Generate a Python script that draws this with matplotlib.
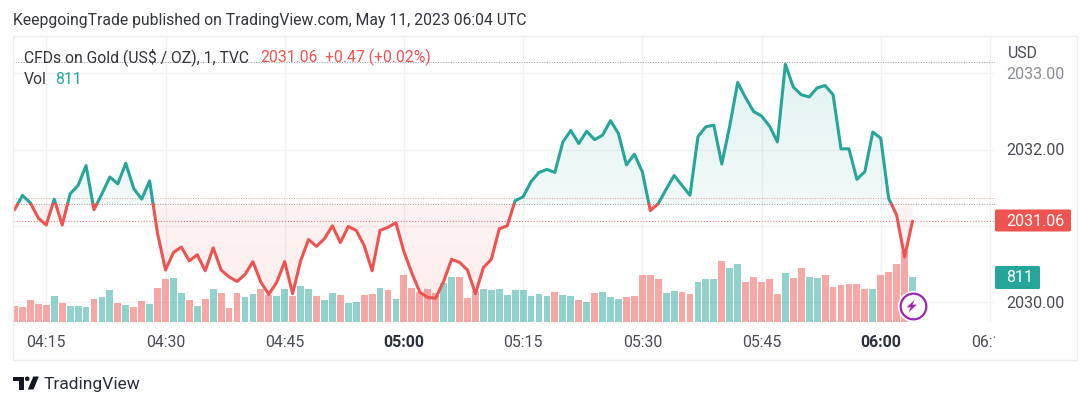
import numpy as np
import matplotlib
matplotlib.use("Agg")
import matplotlib.pyplot as plt
from matplotlib.patches import Rectangle, Polygon, Circle, FancyBboxPatch

plt.rcParams['font.family'] = ['Roboto', 'DejaVu Sans']

UP = "#26a69a"
DOWN = "#ef5350"
TEXT = "#4a4c55"
W, H = 1090, 407

# one close per minute, starting at 04:11
closes = [
    2031.21, 2031.40, 2031.30, 2031.10, 2031.01, 2031.35, 2031.01, 2031.42, 2031.53, 2031.79,
    2031.21, 2031.42, 2031.64, 2031.55, 2031.82, 2031.49, 2031.35, 2031.59, 2030.90, 2030.42,
    2030.65, 2030.72, 2030.54, 2030.62, 2030.41, 2030.71, 2030.42, 2030.33, 2030.27, 2030.36,
    2030.53, 2030.26, 2030.10, 2030.26, 2030.53, 2030.11, 2030.54, 2030.82, 2030.73, 2030.83,
    2031.00, 2030.78, 2030.99, 2030.94, 2030.74, 2030.41, 2030.94, 2030.98, 2031.04, 2030.66,
    2030.38, 2030.13, 2030.06, 2030.05, 2030.27, 2030.56, 2030.52, 2030.42, 2030.11, 2030.45,
    2030.56, 2030.96, 2031.00, 2031.33, 2031.38, 2031.58, 2031.70, 2031.74, 2031.70, 2032.10,
    2032.25, 2032.08, 2032.24, 2032.13, 2032.19, 2032.38, 2032.21, 2031.80, 2031.94, 2031.71,
    2031.20, 2031.29, 2031.48, 2031.66, 2031.53, 2031.40, 2032.17, 2032.30, 2032.32, 2031.81,
    2032.31, 2032.88, 2032.68, 2032.50, 2032.44, 2032.31, 2032.10, 2033.12, 2032.82, 2032.72,
    2032.69, 2032.81, 2032.84, 2032.72, 2032.01, 2032.01, 2031.61, 2031.71, 2032.23, 2032.15,
    2031.36, 2031.14, 2030.59, 2031.06,
]
volumes = [
    294, 276, 390, 324, 306, 462, 348, 288, 288, 276,
    408, 450, 570, 336, 306, 264, 378, 324, 612, 768,
    792, 528, 390, 294, 414, 588, 516, 252, 528, 450,
    504, 600, 486, 462, 588, 474, 642, 588, 462, 402,
    528, 486, 348, 354, 486, 504, 612, 570, 414, 840,
    612, 546, 600, 516, 708, 810, 810, 432, 558, 588,
    576, 588, 486, 570, 570, 474, 504, 462, 534, 486,
    474, 390, 360, 516, 546, 450, 414, 444, 462, 840,
    840, 780, 528, 558, 534, 504, 726, 768, 768, 1104,
    978, 1050, 714, 810, 726, 768, 504, 882, 786, 966,
    810, 792, 852, 630, 666, 684, 684, 588, 588, 840,
    894, 1038, 1272, 811,
]
vol_dirs = [
    "r", "r", "r", "r", "r", "g", "r", "g", "g", "g",
    "r", "g", "g", "r", "g", "r", "r", "g", "r", "r",
    "g", "g", "r", "g", "r", "g", "r", "r", "r", "g",
    "g", "r", "r", "g", "g", "r", "g", "g", "r", "g",
    "g", "r", "g", "g", "r", "r", "g", "r", "g", "r",
    "r", "r", "r", "r", "g", "g", "r", "r", "r", "g",
    "g", "g", "g", "g", "g", "g", "g", "g", "r", "g",
    "g", "r", "g", "r", "g", "g", "g", "r", "r", "r",
    "r", "r", "g", "g", "r", "r", "g", "g", "g", "r",
    "g", "g", "r", "r", "r", "r", "r", "g", "r", "r",
    "g", "g", "r", "r", "r", "r", "r", "r", "g", "r",
    "r", "r", "r", "g",
]
time_ticks = [4, 19, 34, 49, 64, 79, 94, 109, 122.8]
time_labels = ["04:15", "04:30", "04:45", "05:00", "05:15", "05:30", "05:45", "06:00", "06:15"]
bold_labels = ["05:00", "06:00"]
grid_prices = [2030, 2031, 2032, 2033]
label_prices = [2030, 2032, 2033]
price_labels = ["2030.00", "2032.00", "2033.00"]

baseline = 2031.284
high_line = 2033.15
prev_line = 2031.37
last_price = 2031.06


def px_axes(fig, left, top, right, bottom):
    return fig.add_axes([left / W, 1 - bottom / H, (right - left) / W, (bottom - top) / H])


fig = plt.figure(figsize=(W / 100, H / 100), dpi=100, facecolor="white")
ax = px_axes(fig, 13, 36, 995, 322)
ax_time = px_axes(fig, 13, 322, 995, 360)

x = np.arange(len(closes), dtype=float)
y = np.array(closes)
xlim = (-0.19, 123.38)
ylim = (2029.738, 2033.49)

# volume has its own scale on the same pane
ax_vol = ax.twinx()
ax_vol.set_ylim(0, 5148)
ax_vol.bar(x, volumes, width=0.86, color=[UP if d == "g" else DOWN for d in vol_dirs],
           alpha=0.5, linewidth=0, zorder=2)
ax_vol.axis("off")
ax.set_zorder(ax_vol.get_zorder() + 1)
ax.patch.set_visible(False)
ax_vol.patch.set_visible(False)

for a in (ax, ax_vol, ax_time):
    a.set_xlim(*xlim)
ax.set_ylim(*ylim)

# grid sits below the bars, so draw it on the figure background axes
ax_bg = px_axes(fig, 13, 36, 995, 322)
ax_bg.set_zorder(-1)
ax_bg.set_xlim(*xlim)
ax_bg.set_ylim(*ylim)
ax_bg.set_xticks([])
ax_bg.set_yticks([])
for s in ax_bg.spines.values():
    s.set_visible(False)
for t in time_ticks:
    ax_bg.axvline(t, color="#f1f2f4", lw=1)
for p in grid_prices:
    ax_bg.axhline(p, color="#f1f2f4", lw=1)

# add points where the line crosses the baseline
xs, ys = [x[0]], [y[0]]
for i in range(1, len(y)):
    if (y[i - 1] - baseline) * (y[i] - baseline) < 0:
        t = (baseline - y[i - 1]) / (y[i] - y[i - 1])
        xs.append(x[i - 1] + t)
        ys.append(baseline)
    xs.append(x[i])
    ys.append(y[i])
xs = np.array(xs)
ys = np.array(ys)


def gradient_fill(color, a_top, a_bottom, y0, y1, upper):
    rgb = matplotlib.colors.to_rgb(color)
    img = np.zeros((64, 2, 4))
    img[..., :3] = rgb
    img[..., 3] = np.linspace(a_top, a_bottom, 64)[:, None]
    im = ax.imshow(img, extent=[xlim[0], xlim[1], y0, y1], aspect="auto", origin="upper",
                   zorder=3, interpolation="bilinear")
    y2 = np.maximum(ys, baseline) if upper else np.minimum(ys, baseline)
    poly = ax.fill_between(xs, baseline, y2, facecolor="none", edgecolor="none")
    im.set_clip_path(poly.get_paths()[0], transform=ax.transData)


gradient_fill(UP, 0.14, 0.06, baseline, 2033.2, True)
gradient_fill(DOWN, 0.07, 0.10, 2030.0, baseline, False)
ax.set_xlim(*xlim)
ax.set_ylim(*ylim)

ax.plot(xs, np.ma.masked_where(ys < baseline, ys), color=UP, lw=2.2, zorder=5,
        solid_joinstyle="round", solid_capstyle="round")
ax.plot(xs, np.ma.masked_where(ys > baseline, ys), color=DOWN, lw=2.2, zorder=5,
        solid_joinstyle="round", solid_capstyle="round")

dots = (0, (1, 1.6))
ax.axhline(high_line, color="#9598a1", lw=0.7, ls=dots, zorder=4)
ax.axhline(baseline, color="#9598a1", lw=0.7, ls=dots, zorder=4)
ax.axhline(prev_line, color=DOWN, lw=0.7, ls=dots, alpha=0.6, zorder=4)
ax.axhline(last_price, color="#ee7a80", lw=0.8, ls=dots, zorder=4)

# news marker on the last bar
ax.plot(x[-1], 2029.95, "o", ms=21, mfc="white", mec="white", mew=1.5, zorder=6)
ax.plot(x[-1], 2029.95, "o", ms=18.5, mfc="white", mec="#9c27b0", mew=1.6, zorder=7)

for a in (ax, ax_time):
    a.set_xticks([])
    a.set_yticks([])
    for s in a.spines.values():
        s.set_visible(False)

ax_time.set_ylim(0, 1)
for t, lab in zip(time_ticks, time_labels):
    ax_time.text(t, 0.46, lab, ha="center", va="center", fontsize=11.4,
                 color=TEXT if lab not in bold_labels else "#2a2e39",
                 fontweight="bold" if lab in bold_labels else "normal", clip_on=True)

# frame, labels and everything else outside the panes, in pixels
top = fig.add_axes([0, 0, 1, 1], zorder=20)
top.set_xlim(0, W)
top.set_ylim(H, 0)
top.axis("off")
top.patch.set_visible(False)

# bolt inside the news marker
top.add_patch(Polygon([(914.8, 299.8), (906.6, 307.3), (910.8, 307.3), (908.4, 312.6), (916.8, 304.6), (912.4, 304.6)],
                      fc="#9c27b0", ec="none"))

top.add_patch(Rectangle((13, 36), 1064, 324, fill=False, ec="#ebedf3", lw=1))
top.text(13, 20.5, "KeepgoingTrade published on TradingView.com, May 11, 2023 06:04 UTC",
         fontsize=11.35, color="#33353c", va="center")
top.text(24, 57, "CFDs on Gold (US$ / OZ), 1, TVC", fontsize=11.35, color="#33353c", va="center")
top.text(260, 57, "2031.06", fontsize=11.35, color=DOWN, va="center")
top.text(325, 57, "+0.47 (+0.02%)", fontsize=11.35, color=DOWN, va="center")
top.text(24, 79, "Vol", fontsize=11.35, color="#33353c", va="center")
top.text(55, 79, "811", fontsize=11.35, color=UP, va="center")

for p, lab in zip(label_prices, price_labels):
    py = 302 - (p - 2030) * 76.23
    top.text(1006, py + 1, lab, fontsize=11.5, color="#8b8d95" if p == 2033 else TEXT, va="center")
top.text(1023, 54, "USD", fontsize=11.4, color=TEXT, va="center", ha="center")

top.add_patch(FancyBboxPatch((995, 209.5), 76, 22, boxstyle="round,pad=0,rounding_size=1.5", fc=DOWN, ec="none"))
top.text(1006, 221.2, "2031.06", fontsize=11.5, color="white", va="center")
top.add_patch(FancyBboxPatch((995, 266), 45, 23, boxstyle="round,pad=0,rounding_size=1.5", fc=UP, ec="none"))
top.text(1006, 278, "811", fontsize=11.5, color="white", va="center")

# logo
top.add_patch(Polygon([(13.3, 376.5), (23.5, 376.5), (23.5, 389.5), (18.5, 389.5), (18.5, 381), (13.3, 381)],
                      fc="#131722", ec="none"))
top.add_patch(Circle((27.2, 378.8), 2.3, fc="#131722", ec="none"))
top.add_patch(Polygon([(33.3, 376.5), (38.8, 376.5), (33.5, 389.5), (27.8, 389.5)], fc="#131722", ec="none"))
top.text(44, 384.5, "TradingView", fontsize=12.5, color="#2a2e39", va="center")

fig.savefig("out.png", dpi=100, facecolor="white")
